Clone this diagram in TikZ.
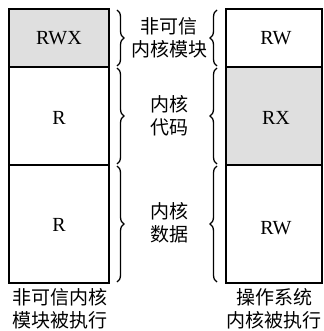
\documentclass[tikz,border=0pt]{standalone}
\usepackage{fontspec}
\setmainfont{Liberation Serif}
\newfontfamily\cjk{Noto Sans CJK SC}
\usetikzlibrary{decorations.pathreplacing}
\begin{document}
\begin{tikzpicture}[x=1pt,y=-1pt,
  txt/.style={font=\fontsize{20}{20}\selectfont,inner sep=0pt},
  lab/.style={font=\cjk\fontsize{19}{23}\selectfont,align=center,inner sep=0pt},
  box/.style={line width=1.7pt},
  br/.style={decorate,decoration={brace,amplitude=7pt},line width=1.3pt}]
\useasboundingbox (0,0) rectangle (323,331);
% left column
\draw[box,fill=gray!25] (9,9) rectangle (109,67);
\draw[box] (9,67) rectangle (109,165);
\draw[box] (9,165) rectangle (109,283);
\node[txt] (l1) at (59,38) {RWX};
\node[txt] (l2) at (59,118) {R};
\node[txt] (l3) at (59,225) {R};
% right column
\draw[box] (226,9) rectangle (322,67);
\draw[box,fill=gray!25] (226,67) rectangle (322,165);
\draw[box] (226,165) rectangle (322,283);
\node[txt] (r1) at (276,38) {RW};
\node[txt] (r2) at (276,118) {RX};
\node[txt] (r3) at (276,228) {RW};
% braces left
\draw[br] (117,10) -- (117,66);
\draw[br] (117,68) -- (117,164);
\draw[br] (117,166) -- (117,282);
% braces right
\draw[br] (217,66) -- (217,10);
\draw[br] (217,164) -- (217,68);
\draw[br] (217,282) -- (217,166);
% middle labels
\node[lab] (m1) at (169,38) {非可信\\内核模块};
\node[lab] (m2) at (169,116) {内核\\代码};
\node[lab] (m3) at (169,223) {内核\\数据};
% bottom labels
\node[lab] (b1) at (60,309) {非可信内核\\模块被执行};
\node[lab] (b2) at (274,309) {操作系统\\内核被执行};
\end{tikzpicture}
\end{document}
